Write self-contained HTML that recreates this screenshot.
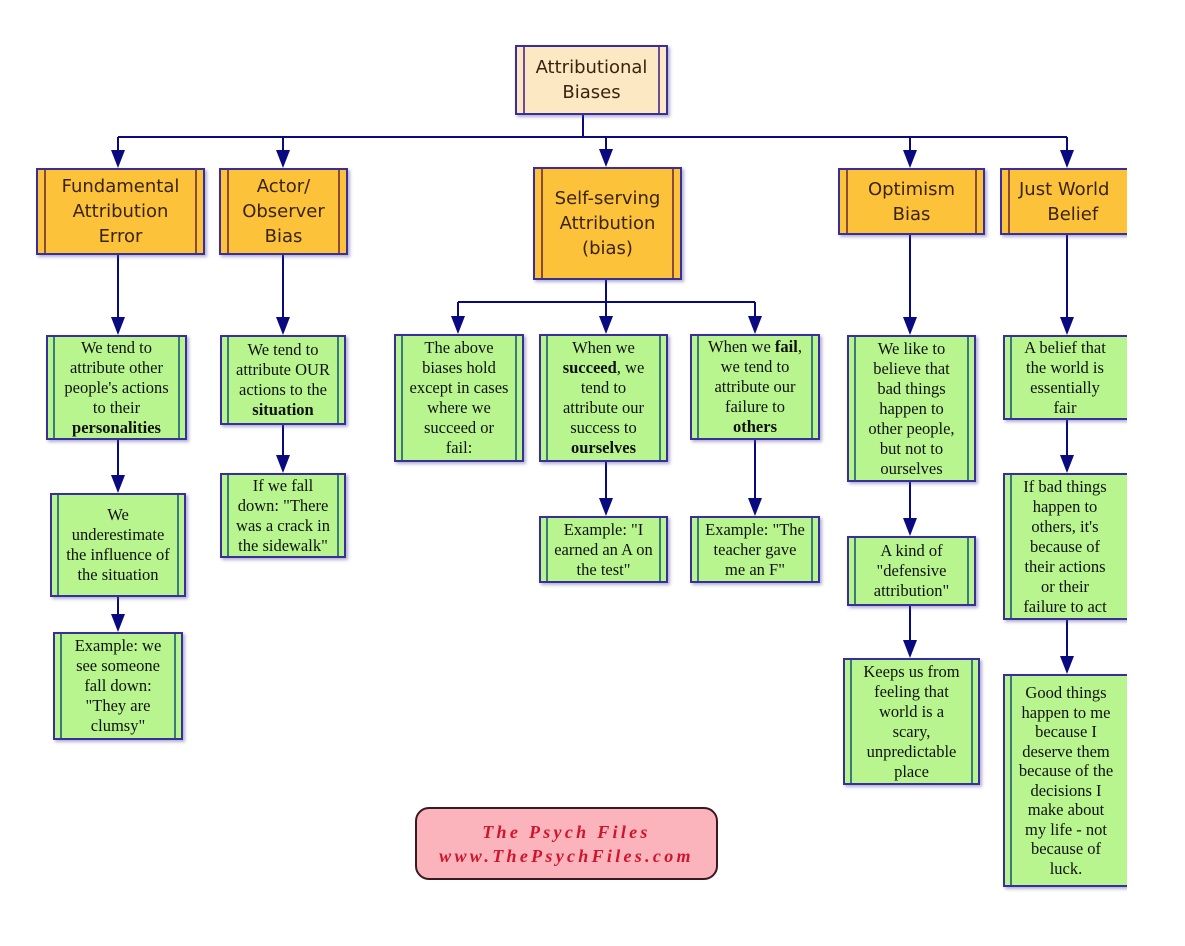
<!DOCTYPE html>
<html><head><meta charset="utf-8"><style>
body{margin:0;background:#fff;width:1185px;height:946px;position:relative;overflow:hidden}
.b{position:absolute;box-sizing:border-box;border:2px solid #3a2f9a;box-shadow:2px 2px 3px rgba(80,80,150,.45);display:flex;align-items:center;justify-content:center;text-align:center}
.b:before,.b:after{content:"";position:absolute;top:0;bottom:0;width:0}
.b>span{display:block}
.o{background:#fbc23a;font-family:"DejaVu Sans","Liberation Sans",sans-serif;font-size:18px;line-height:25px;color:#3a2410}
.o:before{left:6px;border-left:2px solid #8a4a3a}.o:after{right:6px;border-left:2px solid #8a4a3a}
.g{background:#b8f58e;font-family:"Liberation Serif",serif;font-size:16.5px;line-height:20px;color:#111;padding:0 13px}
.g:before{left:5px;border-left:2px solid #3a7a7a}.g:after{right:5px;border-left:2px solid #3a7a7a}
.r{background:#fde8c4;font-family:"DejaVu Sans","Liberation Sans",sans-serif;font-size:18px;line-height:25px;color:#3a2410}
.r:before{left:6px;border-left:2px solid #6a4a9a}.r:after{right:6px;border-left:2px solid #6a4a9a}
</style></head><body>
<svg width="1185" height="946" style="position:absolute;left:0;top:0">
<g stroke="#0a0a80" stroke-width="2" fill="#0a0a80">
<path d="M583 115V137M118 137H1067M458 302H755M606 280V302" fill="none"/>
</g>
<g fill="#0a0a80" stroke="#0a0a80" stroke-width="2">
<line x1="118" y1="137" x2="118" y2="152"/><polygon points="111,150 125,150 118,168" stroke="none"/>
<line x1="283" y1="137" x2="283" y2="152"/><polygon points="276,150 290,150 283,168" stroke="none"/>
<line x1="606" y1="137" x2="606" y2="152"/><polygon points="599,149 613,149 606,167" stroke="none"/>
<line x1="910" y1="137" x2="910" y2="152"/><polygon points="903,150 917,150 910,168" stroke="none"/>
<line x1="1067" y1="137" x2="1067" y2="152"/><polygon points="1060,150 1074,150 1067,168" stroke="none"/>
<line x1="118" y1="255" x2="118" y2="320"/><polygon points="111,317 125,317 118,335" stroke="none"/>
<line x1="118" y1="440" x2="118" y2="478"/><polygon points="111,475 125,475 118,493" stroke="none"/>
<line x1="118" y1="597" x2="118" y2="617"/><polygon points="111,614 125,614 118,632" stroke="none"/>
<line x1="283" y1="255" x2="283" y2="320"/><polygon points="276,317 290,317 283,335" stroke="none"/>
<line x1="283" y1="425" x2="283" y2="458"/><polygon points="276,455 290,455 283,473" stroke="none"/>
<line x1="458" y1="302" x2="458" y2="320"/><polygon points="451,316 465,316 458,334" stroke="none"/>
<line x1="606" y1="302" x2="606" y2="320"/><polygon points="599,316 613,316 606,334" stroke="none"/>
<line x1="755" y1="302" x2="755" y2="320"/><polygon points="748,316 762,316 755,334" stroke="none"/>
<line x1="606" y1="462" x2="606" y2="500"/><polygon points="599,498 613,498 606,516" stroke="none"/>
<line x1="755" y1="440" x2="755" y2="500"/><polygon points="748,498 762,498 755,516" stroke="none"/>
<line x1="910" y1="235" x2="910" y2="320"/><polygon points="903,317 917,317 910,335" stroke="none"/>
<line x1="910" y1="482" x2="910" y2="520"/><polygon points="903,518 917,518 910,536" stroke="none"/>
<line x1="910" y1="606" x2="910" y2="642"/><polygon points="903,640 917,640 910,658" stroke="none"/>
<line x1="1067" y1="235" x2="1067" y2="320"/><polygon points="1060,317 1074,317 1067,335" stroke="none"/>
<line x1="1067" y1="420" x2="1067" y2="458"/><polygon points="1060,455 1074,455 1067,473" stroke="none"/>
<line x1="1067" y1="620" x2="1067" y2="658"/><polygon points="1060,656 1074,656 1067,674" stroke="none"/>
</g></svg>
<div class="b r" style="left:515px;top:45px;width:153px;height:70px"><span>Attributional<br>Biases</span></div>
<div class="b o" style="left:36px;top:168px;width:169px;height:87px"><span>Fundamental<br>Attribution<br>Error</span></div>
<div class="b o" style="left:219px;top:168px;width:129px;height:87px"><span>Actor/<br>Observer<br>Bias</span></div>
<div class="b o" style="left:533px;top:167px;width:149px;height:113px"><span>Self-serving<br>Attribution<br>(bias)</span></div>
<div class="b o" style="left:838px;top:168px;width:147px;height:67px"><span>Optimism<br>Bias</span></div>
<div class="b o" style="left:1000px;top:168px;width:140px;height:67px;justify-content:flex-start;padding-left:17px"><span>Just World<br>&nbsp;&nbsp;&nbsp;Belief</span></div>
<div class="b g" style="left:46px;top:335px;width:141px;height:105px"><span>We tend to attribute other people's actions to their <b>personalities</b></span></div>
<div class="b g" style="left:50px;top:493px;width:136px;height:104px"><span>We underestimate the influence of the situation</span></div>
<div class="b g" style="left:53px;top:632px;width:130px;height:108px"><span>Example: we see someone fall down: "They are clumsy"</span></div>
<div class="b g" style="left:220px;top:335px;width:126px;height:90px"><span>We tend to attribute OUR actions to the <b>situation</b></span></div>
<div class="b g" style="left:220px;top:473px;width:126px;height:85px"><span>If we fall down: "There was a crack in the sidewalk"</span></div>
<div class="b g" style="left:394px;top:334px;width:130px;height:128px"><span>The above biases hold except in cases where we succeed or fail:</span></div>
<div class="b g" style="left:539px;top:334px;width:129px;height:128px"><span>When we <b>succeed</b>, we tend to attribute our success to <b>ourselves</b></span></div>
<div class="b g" style="left:690px;top:334px;width:130px;height:106px"><span>When we <b>fail</b>, we tend to attribute our failure to <b>others</b></span></div>
<div class="b g" style="left:539px;top:516px;width:129px;height:67px"><span>Example: "I earned an A on the test"</span></div>
<div class="b g" style="left:690px;top:516px;width:130px;height:67px"><span>Example: "The teacher gave me an F"</span></div>
<div class="b g" style="left:847px;top:335px;width:129px;height:147px"><span>We like to believe that bad things happen to other people, but not to ourselves</span></div>
<div class="b g" style="left:847px;top:536px;width:129px;height:70px"><span>A kind of "defensive attribution"</span></div>
<div class="b g" style="left:843px;top:658px;width:137px;height:127px"><span>Keeps us from feeling that world is a scary, unpredictable place</span></div>
<div class="b g" style="left:1003px;top:335px;width:137px;height:85px;padding-right:26px"><span>A belief that the world is essentially fair</span></div>
<div class="b g" style="left:1003px;top:473px;width:137px;height:147px;padding-right:26px"><span>If bad things happen to others, it's because of their actions or their failure to act</span></div>
<div class="b g" style="left:1003px;top:674px;width:137px;height:213px;padding-right:24px;line-height:19.5px"><span>Good things happen to me because I deserve them because of the decisions I make about my life - not because of luck.</span></div>
<div style="position:absolute;left:1127px;top:0;width:58px;height:946px;background:#fff"></div>
<div style="position:absolute;left:415px;top:807px;width:303px;height:73px;box-sizing:border-box;border:2px solid #3a1a20;border-radius:14px;background:#fbb4bc;font-family:'Liberation Serif',serif;font-style:italic;font-weight:bold;color:#d0142c;text-align:center;font-size:18px;line-height:24px;letter-spacing:3.3px;padding-top:11px;white-space:nowrap">The Psych Files<br>www.ThePsychFiles.com</div>
</body></html>
